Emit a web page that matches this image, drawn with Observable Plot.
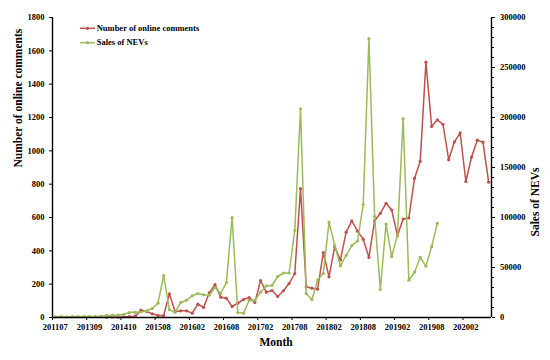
<!DOCTYPE html>
<html><head><meta charset="utf-8">
<script src="https://cdn.jsdelivr.net/npm/d3@7"></script>
<script src="https://cdn.jsdelivr.net/npm/@observablehq/plot@0.6"></script>
<style>
body{margin:0;background:#fff;}
#wrap{position:relative;width:550px;height:360px;}
#leg{position:absolute;left:0;top:0;pointer-events:none;}
</style></head><body><div id="wrap"></div>
<script>
const months = ["201107","201111","201203","201207","201211","201303","201309","201311","201401","201403","201405","201407","201410","201412","201502","201504","201505","201507",
"201508","201509","201510","201511","201512",
"201601","201602","201603","201604","201605","201606","201607","201608","201609","201610","201611","201612",
"201701","201702","201703","201704","201705","201706","201707","201708","201709","201710","201711","201712",
"201801","201802","201803","201804","201805","201806","201807","201808","201809","201810","201811","201812",
"201901","201902","201903","201904","201905","201906","201907","201908","201909","201910","201911","201912",
"202001","202002","202003","202004","202005","202006"];

const comments = [null,null,null,null,null,null,null,null,null,2,3,2,4,5,8,44,36,22,
12,12,142,34,40,
40,26,80,60,148,198,122,116,66,86,108,120,
90,222,152,162,126,160,204,264,773,185,176,170,
390,244,425,345,512,580,518,470,360,581,625,685,
645,491,591,597,836,938,1532,1146,1186,1158,946,1054,
1108,816,963,1064,1052,812];

const sales = [700,800,600,900,800,1000,900,1100,1300,2000,2200,2400,3000,5000,5200,5500,6700,9000,
14300,42000,7800,5300,15000,
17300,21700,24000,22700,22300,30000,24000,35000,100000,5000,4300,17200,
17200,25300,31700,32000,41000,44500,44500,87200,208700,24000,17800,37500,
44000,95300,72000,51700,62000,71800,76500,112800,278800,101000,28000,93500,
60800,82500,198700,37300,45300,60200,51300,70800,94200,null,null,null,
null,null,null,null,null,null];

const xTickLabels = ["201107","201309","201410","201508","201602","201608","201702","201708","201802","201808","201902","201908","202002"];
const leftTicks = [0,200,400,600,800,1000,1200,1400,1600,1800];
const rightTicks = [0,50000,100000,150000,200000,250000,300000];
const seriesNames = ["Number of online comments","Sales of NEVs"];
const seriesColors = ["#C0504D","#9BBB59"];

const k = 1800/300000;
const rows = months.map((m,i)=>({i, m, c: comments[i], s: sales[i]==null?null:sales[i]*k}));
const tickIdx = xTickLabels.map(l=>months.indexOf(l));
const boundaries = tickIdx.map(i=>i-0.5);
const rightMinor = d3.range(0,300001,10000).filter(v=>v%50000!==0);
const font = '"Liberation Serif","Times New Roman",serif';

const chart = Plot.plot({
  width:550, height:360,
  marginLeft:52, marginRight:59, marginTop:17, marginBottom:43,
  style:{fontFamily:font, fontWeight:"bold", fontSize:"8.5px", color:"#000", background:"#fff"},
  x:{domain:[-0.5, months.length-0.5]},
  y:{domain:[0,1800]},
  marks:[
    Plot.axisY({ticks:leftTicks, tickSize:3, tickPadding:5, label:null, tickFormat:d=>String(d)}),
    Plot.axisY({anchor:"right", ticks:rightMinor.map(v=>v*k), tickSize:2, tickFormat:()=>"", label:null}),
    Plot.axisY({anchor:"right", ticks:rightTicks.map(v=>v*k), tickSize:3, tickPadding:5.5, label:null, tickFormat:d=>String(Math.round(d/k))}),
    Plot.axisX({ticks:boundaries, tickSize:3, tickFormat:()=>"", label:null}),
    Plot.axisX({ticks:tickIdx, tickSize:0, tickPadding:6, label:null, tickFormat:i=>months[i]}),
    Plot.line(rows, {x:"i", y:"c", stroke:seriesColors[0], strokeWidth:1.5}),
    Plot.dot(rows.filter(d=>d.c!=null), {x:"i", y:"c", r:1.6, fill:seriesColors[0]}),
    Plot.line(rows, {x:"i", y:"s", stroke:seriesColors[1], strokeWidth:1.5}),
    Plot.dot(rows.filter(d=>d.s!=null), {x:"i", y:"s", r:1.6, fill:seriesColors[1]}),
    Plot.ruleX([-0.5, months.length-0.5], {stroke:"#000", strokeWidth:1.4}),
    Plot.ruleY([0], {stroke:"#000", strokeWidth:1.4}),
    Plot.text(["Number of online comments"], {frameAnchor:"left", dx:-34, rotate:-90, fontSize:11.5, fontWeight:"bold", fill:"#000"}),
    Plot.text(["Sales of NEVs"], {frameAnchor:"right", dx:44, rotate:-90, fontSize:11.5, fontWeight:"bold", fill:"#000"}),
    Plot.text(["Month"], {frameAnchor:"bottom", dx:4, dy:28, fontSize:11.5, fontWeight:"bold", fill:"#000"})
  ]
});
const wrap = document.getElementById("wrap");
wrap.appendChild(chart);

// legend
const leg = d3.select(wrap).append("svg").attr("id","leg").attr("width",550).attr("height",360)
  .style("font-family",font).style("font-weight","bold").style("font-size","8.5px");
seriesNames.forEach((name,j)=>{
  const y = 28.3 + j*14.4;
  const g = leg.append("g");
  g.append("line").attr("x1",80).attr("x2",95).attr("y1",y).attr("y2",y).attr("stroke",seriesColors[j]).attr("stroke-width",1.5);
  g.append("circle").attr("cx",87.5).attr("cy",y).attr("r",1.6).attr("fill",seriesColors[j]);
  g.append("text").attr("x",96.7).attr("y",y).attr("dy","0.32em").text(name);
});
</script></body></html>
